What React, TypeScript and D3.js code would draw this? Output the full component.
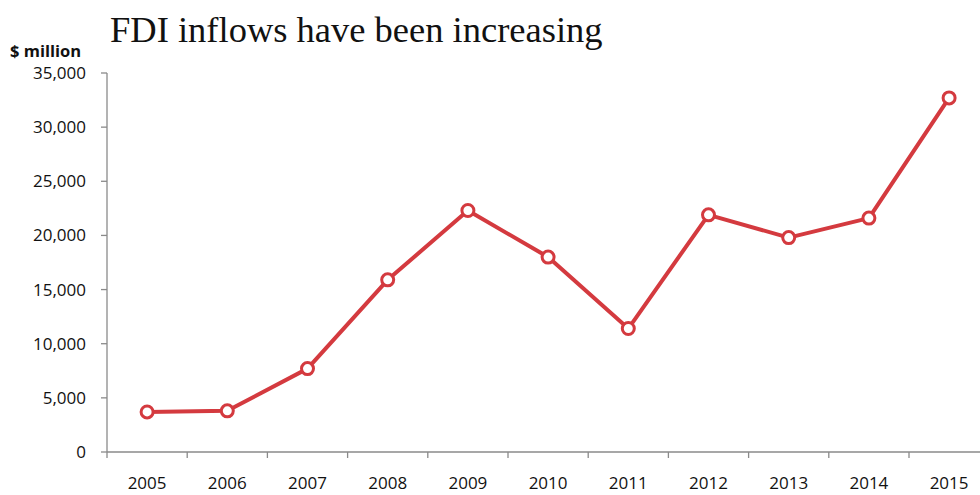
import React from "react";
import * as d3 from "d3";

const years = ["2005","2006","2007","2008","2009","2010","2011","2012","2013","2014","2015"];
const fdi = [3700, 3800, 7700, 15900, 22300, 18000, 11400, 21900, 19800, 21600, 32700];
const yTicks = [0, 5000, 10000, 15000, 20000, 25000, 30000, 35000];
const title = "FDI inflows have been increasing";
const unitLabel = "$ million";

export default function App() {
  const W = 980, H = 495;
  const left = 107, top = 73, bottom = 452;
  const band = 80.2;
  const x = d3.scaleBand<string>().domain(years).range([left, left + band * years.length]).padding(0);
  const y = d3.scaleLinear().domain([0, 35000]).range([bottom, top]);
  const line = d3.line<number>().x((_, i) => (x(years[i]) as number) + x.bandwidth() / 2).y(d => y(d));
  const fmt = d3.format(",");
  const axisColor = "#8a8a8a";
  const red = "#d43a3f";
  const sans = "'Open Sans', 'Liberation Sans', sans-serif";
  return (
    <svg width={W} height={H} style={{ position: "absolute", left: 0, top: 0, background: "#fff" }}>
      <text x={110} y={42} fontFamily="'Liberation Serif', 'DejaVu Serif', serif" fontSize={36.5} fill="#111">{title}</text>
      <text x={10} y={57} fontFamily={sans} fontSize={16.5} fontWeight="bold" fill="#111">{unitLabel}</text>
      <line x1={left} x2={left} y1={top} y2={bottom} stroke={axisColor} strokeWidth={1.3} />
      <line x1={left} x2={W} y1={bottom} y2={bottom} stroke={axisColor} strokeWidth={1.3} />
      {yTicks.map(t => (
        <g key={t}>
          <line x1={left - 6} x2={left} y1={y(t)} y2={y(t)} stroke={axisColor} strokeWidth={1.3} />
          <text x={86} y={y(t)} dy="0.35em" textAnchor="end" fontFamily={sans} fontSize={17} fill="#111">{fmt(t)}</text>
        </g>
      ))}
      {years.map(yr => (
        <g key={yr}>
          <line x1={x(yr) as number} x2={x(yr) as number} y1={bottom} y2={bottom + 6} stroke={axisColor} strokeWidth={1.3} />
          <text x={(x(yr) as number) + x.bandwidth() / 2} y={483} dy="0.35em" textAnchor="middle" fontFamily={sans} fontSize={17} fill="#111">{yr}</text>
        </g>
      ))}
      <path d={line(fdi) || ""} fill="none" stroke={red} strokeWidth={4} strokeLinejoin="round" />
      {fdi.map((v, i) => (
        <circle key={i} cx={(x(years[i]) as number) + x.bandwidth() / 2} cy={y(v)} r={6} fill="#fff" stroke={red} strokeWidth={3} />
      ))}
    </svg>
  );
}
